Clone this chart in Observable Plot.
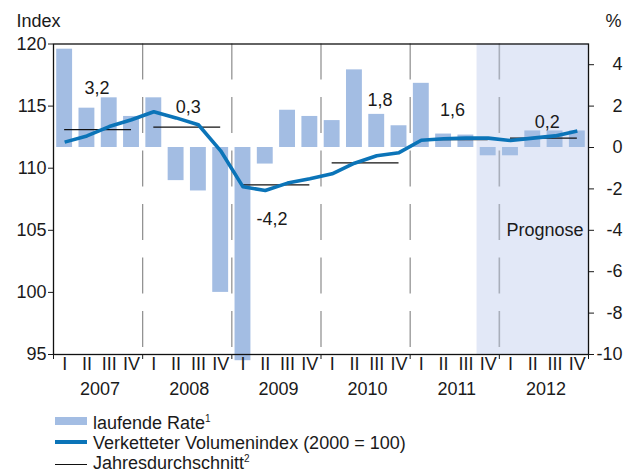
<!DOCTYPE html>
<html>
<head>
<meta charset="utf-8">
<script src="https://cdn.jsdelivr.net/npm/d3@7"></script>
<script src="https://cdn.jsdelivr.net/npm/@observablehq/plot@0.6"></script>
<style>
  html, body { margin: 0; padding: 0; background: #fff; }
  body { width: 631px; font-family: "Liberation Sans", Arial, Helvetica, sans-serif; color: #1a1a1a; }
  #chart svg { display: block; }
  #legend { position: relative; height: 66px; font-size: 18px; }
  .row { position: absolute; left: 0; height: 20.5px; line-height: 20.5px; width: 631px; }
  .row .txt { position: absolute; left: 93px; top: 0; white-space: nowrap; }
  .row .sw { position: absolute; left: 55px; }
  sup { font-size: 10px; vertical-align: 0; position: relative; top: -7px; }
</style>
</head>
<body>
<div id="chart"></div>
<div id="legend">
  <div class="row" style="top:8px"><div class="sw" style="top:4px;width:32px;height:8px;background:#a3bde3"></div><div class="txt">laufende Rate<sup>1</sup></div></div>
  <div class="row" style="top:28.3px"><div class="sw" style="top:7px;width:32px;height:4px;background:#0b74b8"></div><div class="txt">Verketteter Volumenindex (2000 = 100)</div></div>
  <div class="row" style="top:48.3px"><div class="sw" style="top:10.5px;width:32px;height:1.3px;background:#111"></div><div class="txt">Jahresdurchschnitt<sup>2</sup></div></div>
</div>
<script>
// ---- data ----
const years = [2007, 2008, 2009, 2010, 2011, 2012];
const quarterLabels = ["I", "II", "III", "IV"];
// laufende Rate (%), quarterly, 2007 Q1 .. 2012 Q4
const rate = [4.75, 1.9, 2.4, 1.5,
              2.4, -1.6, -2.1, -7.0,
              -10.3, -0.8, 1.8, 1.5,
              1.3, 3.75, 1.6, 1.05,
              3.1, 0.65, 0.6, -0.4,
              -0.4, 0.8, 0.8, 0.8];
// Verketteter Volumenindex (2000 = 100)
const volumeIndex = [112.1, 112.6, 113.35, 113.9,
                     114.55, 114.05, 113.5, 111.4,
                     108.5, 108.2, 108.8, 109.15,
                     109.55, 110.4, 111.0, 111.25,
                     112.25, 112.37, 112.42, 112.42,
                     112.23, 112.42, 112.6, 113.0];
// Jahresdurchschnitt (index level)
const annualAverage = [113.1, 113.3, 108.66, 110.43, 112.3, 112.42];
// annual growth labels (value text, anchor in index units, shift in quarters)
const annualRateLabels = ["3,2", "0,3", "-4,2", "1,8", "1,6", "0,2"];
const annualLabelY = [116.4, 114.9, 105.9, 115.45, 114.7, 113.7];
const annualLabelShift = [-0.05, 0.05, -0.2, 0.65, -0.1, 0.15];
const forecastStart = {year: 2011, quarter: 4};
const indexTicks = [95, 100, 105, 110, 115, 120];
const pctTicks = [-10, -8, -6, -4, -2, 0, 2, 4];

// ---- build ----
const idxDomain = [95, 120];
const pctDomain = [-10, 5];
const toIdx = p => idxDomain[0] + (p - pctDomain[0]) * (idxDomain[1] - idxDomain[0]) / (pctDomain[1] - pctDomain[0]);
const toPct = v => pctDomain[0] + (v - idxDomain[0]) * (pctDomain[1] - pctDomain[0]) / (idxDomain[1] - idxDomain[0]);

const table = rate.map((r, i) => ({
  i, year: years[Math.floor(i / 4)], q: quarterLabels[i % 4], rate: r, index: volumeIndex[i]
}));
const annual = years.map((y, k) => ({k, year: y, avg: annualAverage[k], label: annualRateLabels[k], ly: annualLabelY[k], lx: annualLabelShift[k]}));
const fStart = years.indexOf(forecastStart.year) * 4 + (forecastStart.quarter - 1);
const nQ = table.length;
const boundaries = d3.range(0, nQ + 1, 4);

const font = "Liberation Sans, Arial, Helvetica, sans-serif";
const ink = "#1a1a1a";
const fs = 18;

const chart = Plot.plot({
  width: 631,
  height: 405,
  marginLeft: 53,
  marginRight: 43,
  marginTop: 43.5,
  marginBottom: 51,
  style: {fontFamily: font, fontSize: fs + "px", color: ink, background: "white", overflow: "visible"},
  x: {type: "linear", domain: [0, nQ]},
  y: {type: "linear", domain: idxDomain},
  marks: [
    Plot.rectY([forecastStart], {x1: fStart, x2: nQ, y1: idxDomain[0], y2: idxDomain[1], fill: "#e2e8f7"}),
    Plot.ruleX(boundaries.filter(b => b > 0 && b < nQ), {
      x: d => d, y1: idxDomain[1], y2: idxDomain[0],
      stroke: d => d >= fStart ? "#a9afbb" : "#8c8c8c",
      strokeWidth: d => d >= fStart ? 1.6 : 1.2,
      strokeDasharray: "36,17.5"
    }),
    Plot.rectY(table, {
      x1: d => d.i, x2: d => d.i + 1,
      y1: toIdx(0), y2: d => toIdx(d.rate),
      insetLeft: 3.2, insetRight: 3.2, fill: "#a3bde3"
    }),
    Plot.ruleY(annual, {x1: d => d.k * 4 + 0.5, x2: d => d.k * 4 + 3.5, y: "avg", stroke: "#111", strokeWidth: 1.3}),
    Plot.line(table, {x: d => d.i + 0.5, y: "index", stroke: "#0b74b8", strokeWidth: 3.6, strokeLinejoin: "round", strokeLinecap: "butt"}),
    Plot.text(annual, {x: d => d.k * 4 + 2 + d.lx, y: "ly", text: "label", fontSize: fs, fill: ink}),
    Plot.text(["Prognose"], {x: nQ, y: toIdx(-4), text: d => d, textAnchor: "end", dx: -5, fontSize: fs, fill: ink}),
    Plot.frame({stroke: "#111", strokeWidth: 1.3}),
    Plot.axisY({ticks: indexTicks, tickSize: 5, tickPadding: 2, label: null, fontSize: fs, tickFormat: d => String(d), fill: ink}),
    Plot.axisY({anchor: "right", ticks: pctTicks.map(toIdx), tickSize: 5, tickPadding: 29, textAnchor: "end", label: null, fontSize: fs, fill: ink,
      tickFormat: v => { const p = Math.round(toPct(v)); return p < 0 ? "-" + Math.abs(p) : String(p); }}),
    Plot.axisX({ticks: boundaries, tickSize: 5, tickFormat: () => "", label: null}),
    Plot.text(table, {x: d => d.i + 0.5, text: "q", frameAnchor: "bottom", dy: 15.2, fontSize: fs, fill: ink}),
    Plot.text(annual, {x: d => d.k * 4 + 2, text: d => String(d.year), frameAnchor: "bottom", dy: 40.2, dx: 2, fontSize: fs, fill: ink}),
    Plot.text(["Index"], {frameAnchor: "top-left", text: d => d, textAnchor: "start", lineAnchor: "bottom", dx: -37, dy: -17.5, fontSize: fs, fill: ink}),
    Plot.text(["%"], {frameAnchor: "top-right", text: d => d, textAnchor: "start", lineAnchor: "bottom", dx: 17, dy: -17, fontSize: fs, fill: ink})
  ]
});
document.getElementById("chart").appendChild(chart);
</script>
</body>
</html>
